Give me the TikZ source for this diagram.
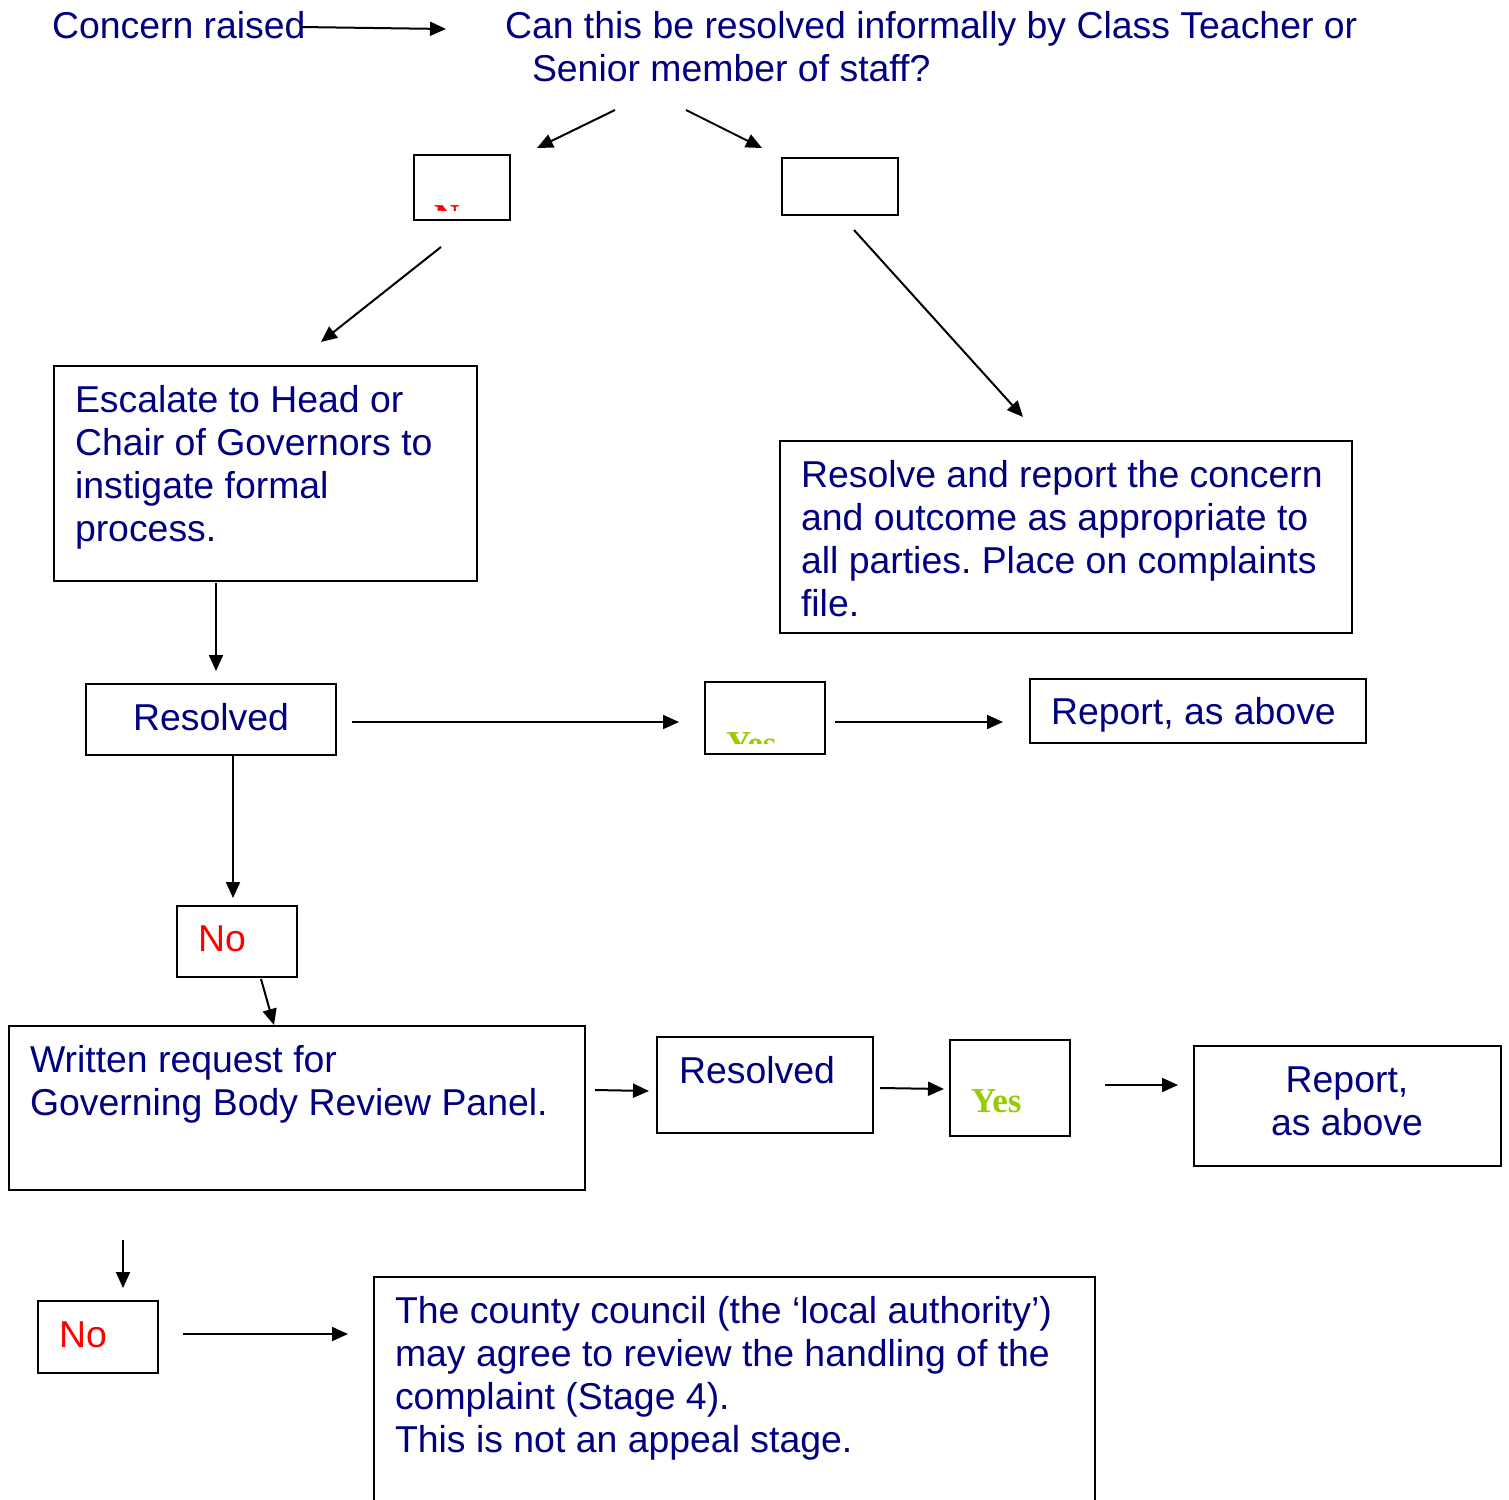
\documentclass[tikz,border=0pt]{standalone}
\usepackage{fontspec}
\setmainfont{Liberation Sans}
\newfontfamily\timesfont{Liberation Serif}
\usetikzlibrary{arrows.meta}
\definecolor{navytext}{RGB}{0,0,128}
\definecolor{yesgreen}{RGB}{153,204,0}
\definecolor{nored}{RGB}{255,0,0}
\frenchspacing
\begin{document}
\begin{tikzpicture}[x=0.5pt,y=-0.5pt,
  box/.style={draw,line width=1pt,anchor=north west,inner sep=0pt,outer sep=0pt},
  txt/.style={anchor=base west,inner sep=0pt,outer sep=0pt,text=navytext,font=\fontsize{18.7}{21.5}\selectfont},
  redtxt/.style={txt,text=nored},
  serifyes/.style={anchor=base west,inner sep=0pt,outer sep=0pt,text=yesgreen,font=\timesfont\bfseries\fontsize{17.5}{20}\selectfont},
  serifno/.style={serifyes,text=nored},
  arr/.style={line width=1pt,-{Triangle[length=8pt,width=7pt]}}]
\clip (0,0) rectangle (1509,1499);
\fill[white] (0,0) rectangle (1509,1499);

% ---- boxes ----
\node[box,minimum width=48pt,minimum height=32.5pt] (bN) at (414,155) {};
\node[box,minimum width=58pt,minimum height=28.5pt] (bE) at (782,158) {};
\node[box,minimum width=211.5pt,minimum height=107.5pt] (bEsc) at (54,366) {};
\node[box,minimum width=286pt,minimum height=96pt] (bRes) at (780,441) {};
\node[box,minimum width=125pt,minimum height=35.5pt] (bR1) at (86,684) {};
\node[box,minimum width=60pt,minimum height=36pt] (bY1) at (705,682) {};
\node[box,minimum width=168pt,minimum height=32pt] (bRep1) at (1030,679) {};
\node[box,minimum width=60pt,minimum height=35.5pt] (bNo1) at (177,906) {};
\node[box,minimum width=288pt,minimum height=82pt] (bW) at (9,1026) {};
\node[box,minimum width=108pt,minimum height=48pt] (bR2) at (657,1037) {};
\node[box,minimum width=60pt,minimum height=48pt] (bY2) at (950,1040) {};
\node[box,minimum width=153.5pt,minimum height=60pt] (bRep2) at (1194,1046) {};
\node[box,minimum width=60pt,minimum height=36pt] (bNo2) at (38,1301) {};
\node[box,minimum width=360.5pt,minimum height=125pt] (bC) at (374,1277) {};

% ---- texts ----
\node[txt] (tConcern) at (52,38) {Concern raised};
\node[txt] (tQ) at (505,38) {\parbox[t]{450pt}{Can this be resolved informally by Class Teacher or\\\hspace*{13.5pt}Senior member of staff?}};
\begin{scope}
  \clip (414,155) rectangle (510,210);
  \node[serifno] (tN) at (434,228) {No};
\end{scope}
\node[txt] (tEsc) at (75,412) {\parbox[t]{220pt}{Escalate to Head or\\Chair of Governors to\\instigate formal\\process.}};
\node[txt] (tRes) at (801,487) {\parbox[t]{300pt}{Resolve and report the concern\\and outcome as appropriate to\\all parties. Place on complaints\\file.}};
\node[txt,anchor=base] (tR1) at (211,730) {Resolved};
\begin{scope}
  \clip (705,682) rectangle (825,743);
  \node[serifyes] (tY1) at (726,755) {Yes};
\end{scope}
\node[txt] (tRep1) at (1051,724) {Report, as above};
\node[redtxt] (tNo1) at (198,951) {No};
\node[txt] (tW) at (30,1072) {\parbox[t]{300pt}{Written request for\\Governing Body Review Panel.}};
\node[txt] (tR2) at (679,1083) {Resolved};
\node[serifyes] (tY2) at (971,1112) {Yes};
\node[txt,anchor=base] (tRep2) at (1347,1092) {\parbox[t]{150pt}{\centering Report,\\as above}};
\node[redtxt] (tNo2) at (59,1347) {No};
\node[txt] (tC) at (395,1323) {\parbox[t]{360pt}{The county council (the ‘local authority’)\\may agree to review the handling of the\\complaint (Stage 4).\\This is not an appeal stage.}};

% ---- connector end points ----
\coordinate (a1s) at (300,27);   \coordinate (a1e) at (446,29);
\coordinate (a2s) at (615,110);  \coordinate (a2e) at (537,148);
\coordinate (a3s) at (686,110);  \coordinate (a3e) at (762,148);
\coordinate (a4s) at (441,247);  \coordinate (a4e) at (321,342);
\coordinate (a5s) at (854,230);  \coordinate (a5e) at (1023,417);
\coordinate (a6s) at (216,583);  \coordinate (a6e) at (216,671);
\coordinate (a7s) at (352,722);  \coordinate (a7e) at (679,722);
\coordinate (a8s) at (835,722);  \coordinate (a8e) at (1003,722);
\coordinate (a9s) at (233,755);  \coordinate (a9e) at (233,898);
\coordinate (a10s) at (261,979); \coordinate (a10e) at (274,1025);
\coordinate (a11s) at (595,1090);\coordinate (a11e) at (649,1091);
\coordinate (a12s) at (880,1088);\coordinate (a12e) at (944,1089);
\coordinate (a13s) at (1105,1085);\coordinate (a13e) at (1178,1085);
\coordinate (a14s) at (123,1240);\coordinate (a14e) at (123,1288);
\coordinate (a15s) at (183,1334);\coordinate (a15e) at (348,1334);

\foreach \i in {1,...,15} \draw[arr] (a\i s) -- (a\i e);
\end{tikzpicture}
\end{document}
